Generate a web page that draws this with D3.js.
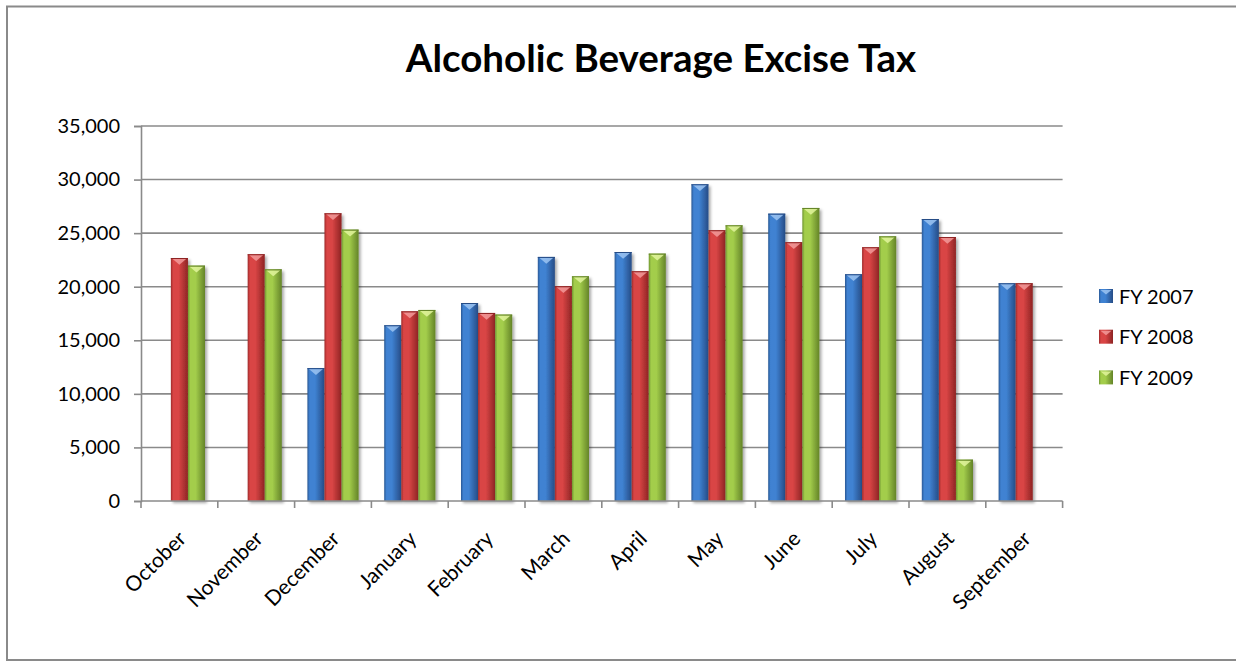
<!DOCTYPE html>
<html>
<head>
<meta charset="utf-8">
<script src="https://cdn.jsdelivr.net/npm/d3@7"></script>
<style>
  html, body { margin: 0; padding: 0; background: #fff; }
  svg { display: block; font-family: Lato, "Open Sans", sans-serif; }
</style>
</head>
<body>
<svg id="chart" width="1236" height="662"></svg>
<script>
// Monthly receipts by fiscal year
const months = ["October", "November", "December", "January", "February", "March",
                "April", "May", "June", "July", "August", "September"];
const seriesNames = ["FY 2007", "FY 2008", "FY 2009"];
const fy2007 = [null, null, 12400, 16400, 18480, 22780, 23240, 29560, 26820, 21160, 26320, 20320];
const fy2008 = [22680, 23030, 26850, 17700, 17550, 20040, 21440, 25270, 24150, 23680, 24640, 20320];
const fy2009 = [21970, 21620, 25330, 17830, 17400, 20970, 23090, 25730, 27350, 24700, 3860, null];
const yTicks = [0, 5000, 10000, 15000, 20000, 25000, 30000, 35000];
const chartTitle = "Alcoholic Beverage Excise Tax";

const svg = d3.select("#chart");
const plot = { left: 141, right: 1062.6, top: 126, bottom: 501 };

// colour ramps per series: left edge, centre, right edge, bevel highlight
const palette = {
  "FY 2007": { left: "#2a5894", mid: "#3f82d2", right: "#264c86", cap: "#9cc4f2" },
  "FY 2008": { left: "#9e2a2a", mid: "#d94545", right: "#8e2424", cap: "#f29a9a" },
  "FY 2009": { left: "#6f9530", mid: "#a3cd4b", right: "#648428", cap: "#e2f59c" }
};

const defs = svg.append("defs");
seriesNames.forEach((s, i) => {
  const g = defs.append("linearGradient").attr("id", "grad" + i)
    .attr("x1", "0%").attr("x2", "100%").attr("y1", "0%").attr("y2", "0%");
  g.append("stop").attr("offset", "0%").attr("stop-color", palette[s].left);
  g.append("stop").attr("offset", "14%").attr("stop-color", palette[s].mid);
  g.append("stop").attr("offset", "45%").attr("stop-color", palette[s].mid);
  g.append("stop").attr("offset", "100%").attr("stop-color", palette[s].right);
});
const f = defs.append("filter").attr("id", "shadow")
  .attr("x", "-30%").attr("y", "-10%").attr("width", "180%").attr("height", "130%");
f.append("feDropShadow").attr("dx", 2).attr("dy", 2).attr("stdDeviation", 1.6)
  .attr("flood-color", "#000").attr("flood-opacity", 0.35);

// outer chart frame
svg.append("rect").attr("x", 7).attr("y", 6.5).attr("width", 1240).attr("height", 653.5)
  .attr("fill", "#fff").attr("stroke", "#8a8a8a").attr("stroke-width", 2);

// title
svg.append("text").attr("x", 661).attr("y", 72)
  .attr("text-anchor", "middle").attr("font-weight", 700).attr("font-size", 38.5)
  .attr("fill", "#000").text(chartTitle);

// scales
const x0 = d3.scaleBand().domain(months).range([plot.left, plot.right]).padding(0);
const C = x0.bandwidth();
const x1 = d3.scaleBand().domain(seriesNames)
  .range([C * 0.75 / 4.5, C - C * 0.75 / 4.5]).padding(0);
const y = d3.scaleLinear().domain([0, 35000]).range([plot.bottom, plot.top]);

// gridlines
svg.append("g").selectAll("line").data(yTicks.filter(d => d > 0)).join("line")
  .attr("x1", plot.left).attr("x2", plot.right)
  .attr("y1", d => y(d)).attr("y2", d => y(d))
  .attr("stroke", "#8a8a8a").attr("stroke-width", 1.6);

// y axis
const yAxis = svg.append("g").attr("transform", `translate(${plot.left},0)`)
  .call(d3.axisLeft(y).tickValues(yTicks).tickFormat(d3.format(",")).tickSize(7).tickPadding(14));
yAxis.select(".domain").attr("stroke", "#8a8a8a").attr("stroke-width", 1.6);
yAxis.selectAll(".tick line").attr("stroke", "#8a8a8a").attr("stroke-width", 1.6);
yAxis.selectAll(".tick text").attr("font-size", 20).attr("fill", "#000")
  .attr("font-family", "Lato, sans-serif");

// bars
const rows = months.map((m, i) => ({ month: m, values: [fy2007[i], fy2008[i], fy2009[i]] }));
const groups = svg.append("g").selectAll("g").data(rows).join("g")
  .attr("transform", d => `translate(${x0(d.month)},0)`);

const bars = groups.selectAll("g.bar")
  .data(d => d.values.map((v, k) => ({ series: seriesNames[k], k, v })).filter(b => b.v != null))
  .join("g").attr("class", "bar");

bars.append("rect")
  .attr("x", b => x1(b.series)).attr("width", x1.bandwidth())
  .attr("y", b => y(b.v)).attr("height", b => y(0) - y(b.v))
  .attr("fill", b => `url(#grad${b.k})`)
  .attr("filter", "url(#shadow)");

// bevelled cap on each bar top
bars.append("path")
  .attr("d", b => {
    const xa = x1(b.series) + 1.5, xb = x1(b.series) + x1.bandwidth() - 1.5;
    const yt = y(b.v) + 0.8, xm = (xa + xb) / 2;
    return `M${xa},${yt}L${xb},${yt}L${xm},${yt + 6}Z`;
  })
  .attr("fill", b => palette[b.series].cap).attr("opacity", 0.85);
bars.append("line")
  .attr("x1", b => x1(b.series)).attr("x2", b => x1(b.series) + x1.bandwidth())
  .attr("y1", b => y(b.v) + 0.5).attr("y2", b => y(b.v) + 0.5)
  .attr("stroke", b => palette[b.series].right).attr("stroke-width", 1);

// x axis
svg.append("line").attr("x1", plot.left).attr("x2", plot.right)
  .attr("y1", plot.bottom).attr("y2", plot.bottom)
  .attr("stroke", "#8a8a8a").attr("stroke-width", 1.6);
const xTickPos = months.map(m => x0(m)).concat([plot.right]);
svg.append("g").selectAll("line").data(xTickPos).join("line")
  .attr("x1", d => d).attr("x2", d => d)
  .attr("y1", plot.bottom).attr("y2", plot.bottom + 7)
  .attr("stroke", "#8a8a8a").attr("stroke-width", 1.6);

svg.append("g").selectAll("text").data(months).join("text")
  .attr("transform", m => `translate(${x0(m) + C / 2 + 8},${plot.bottom + 39}) rotate(-45)`)
  .attr("text-anchor", "end").attr("font-size", 21).attr("fill", "#000")
  .text(m => m);

// legend
const legend = svg.append("g").selectAll("g").data(seriesNames).join("g")
  .attr("transform", (s, i) => `translate(1099,${289 + i * 40.7})`);
legend.append("rect").attr("width", 14).attr("height", 14)
  .attr("fill", (s, i) => `url(#grad${i})`);
legend.append("path").attr("d", "M1.5,1L12.5,1L7,5.5Z")
  .attr("fill", s => palette[s].cap).attr("opacity", 0.85);
legend.append("text").attr("x", 20).attr("y", 14.5)
  .attr("font-size", 20).attr("fill", "#000").text(s => s);
</script>
</body>
</html>
